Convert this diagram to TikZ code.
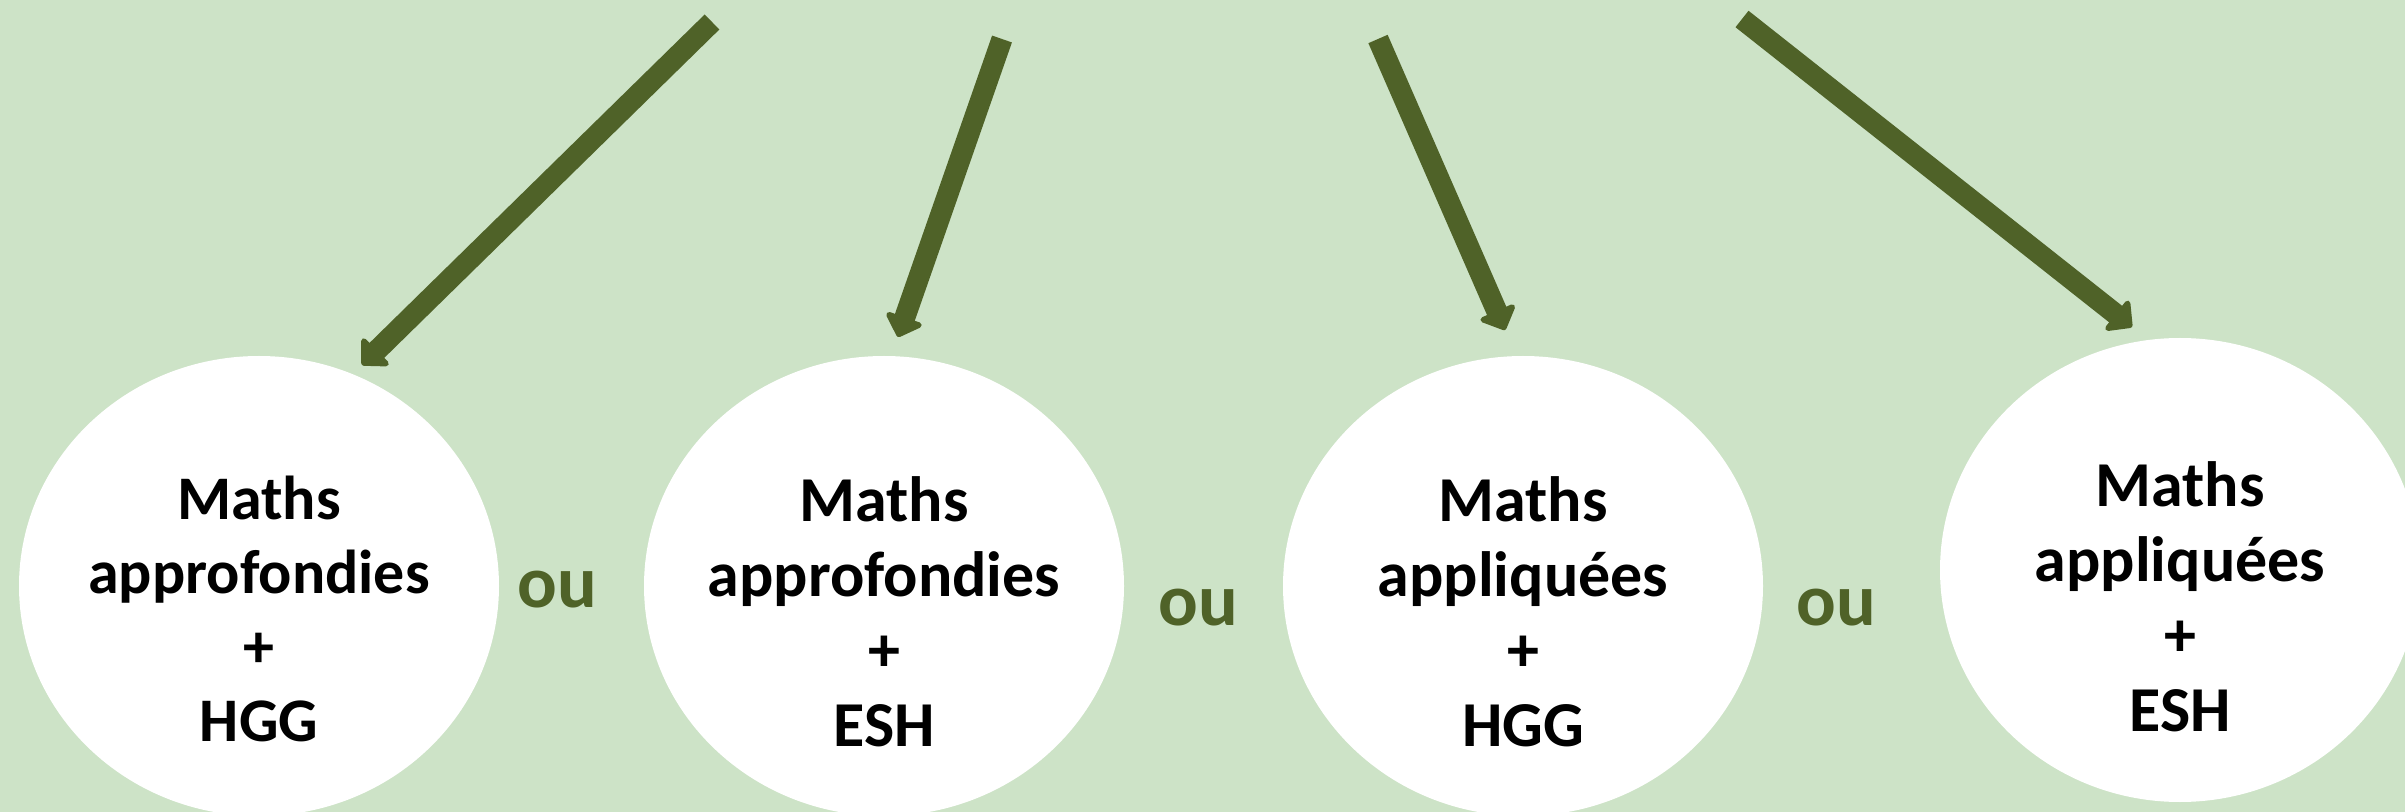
\documentclass[tikz,border=0pt]{standalone}
\usepackage{fontspec}
\setmainfont{Carlito}
\usetikzlibrary{shapes.geometric,arrows.meta}
\definecolor{bggreen}{RGB}{205,227,199}
\definecolor{olive}{RGB}{79,98,40}
\tikzset{
  bubble/.style={ellipse, fill=white, draw=none, inner sep=0pt, minimum width=240pt, minimum height=230pt},
  bubbletext/.style={align=center, font=\fontsize{32}{37.5}\selectfont\bfseries, text=black, inner sep=0pt},
  oulabel/.style={font=\fontsize{37}{40}\selectfont\bfseries, text=olive, inner sep=0pt},
  bigarrow/.style={draw=olive, line width=10.5pt, -{Triangle[width=22pt,length=11pt,round]}}
}
\begin{document}
\begin{tikzpicture}[x=0.5pt,y=-0.5pt]
\fill[bggreen] (0,0) rectangle (2405,812);
\useasboundingbox (0,0) rectangle (2405,812);
\begin{scope}
\clip (0,0) rectangle (2405,812);
\node[bubble] (e1) at (259,586) {};
\node[bubble] (e2) at (884,586) {};
\node[bubble] (e3) at (1523,586) {};
\node[bubble, minimum height=232pt] (e4) at (2180,570) {};
\end{scope}
\node[bubbletext, font=\fontsize{31}{37}\selectfont\bfseries] (t1) at (259,609) {Maths\\approfondies\\+\\HGG};
\node[bubbletext] (t2) at (884,612) {Maths\\approfondies\\+\\ESH};
\node[bubbletext] (t3) at (1523,612) {Maths\\appliquées\\+\\HGG};
\node[bubbletext] (t4) at (2180,597) {Maths\\appliquées\\+\\ESH};
\node[oulabel] (o1) at (557,590) {ou};
\node[oulabel] (o2) at (1198,608) {ou};
\node[oulabel] (o3) at (1836,608) {ou};
\coordinate (s1) at (712,22);
\coordinate (h1) at (362,365);
\coordinate (s2) at (1002,39);
\coordinate (h2) at (898,337);
\coordinate (s3) at (1378,39);
\coordinate (h3) at (1505,330);
\coordinate (s4) at (1742,19);
\coordinate (h4) at (2132,327);
\draw[bigarrow] (s1) -- (h1);
\draw[bigarrow] (s2) -- (h2);
\draw[bigarrow] (s3) -- (h3);
\draw[bigarrow] (s4) -- (h4);
\end{tikzpicture}
\end{document}
